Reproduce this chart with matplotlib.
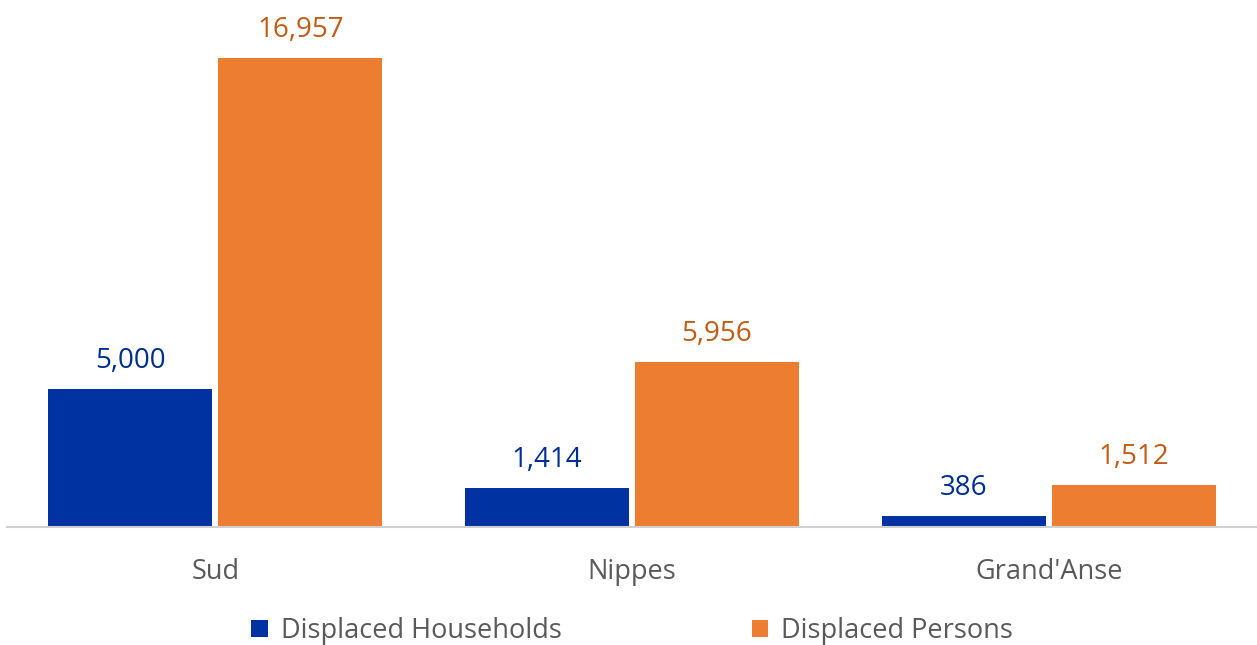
import matplotlib.pyplot as plt
import numpy as np

categories = ["Sud", "Nippes", "Grand'Anse"]
households = [5000, 1414, 386]
persons = [16957, 5956, 1512]
series_names = ["Displaced Households", "Displaced Persons"]

blue = "#0033A1"
orange = "#ED7D31"
blue_txt = "#002E91"
orange_txt = "#C55A11"
grey = "#595959"

plt.rcParams['font.family'] = ['Open Sans', 'DejaVu Sans']

fig = plt.figure(figsize=(12.57, 6.45), dpi=100)
ax = fig.add_axes([7 / 1257, 118 / 645, 1250 / 1257, 527 / 645])

x = np.arange(len(categories))
w = 0.394
off = 0.204
b1 = ax.bar(x - off, households, w, color=blue, label=series_names[0])
b2 = ax.bar(x + off, persons, w, color=orange, label=series_names[1])

for bars, col in [(b1, blue_txt), (b2, orange_txt)]:
    for r in bars:
        ax.annotate(f"{int(r.get_height()):,}", (r.get_x() + r.get_width() / 2, r.get_height()),
                    xytext=(0, 10), textcoords="offset points", ha="center", va="bottom",
                    fontsize=20, color=col, fontweight="medium")

ax.set_xlim(-0.5, 2.5)
ax.set_ylim(0, 19050)
ax.set_xticks(x)
ax.set_xticklabels(categories, fontsize=19.5, color=grey)
ax.tick_params(axis="x", length=0, pad=22)
ax.set_yticks([])
for s in ["top", "right", "left"]:
    ax.spines[s].set_visible(False)
ax.spines["bottom"].set_color("#D0D0D0")
ax.spines["bottom"].set_linewidth(1.5)

leg = fig.legend(handles=[b1, b2], loc="center", bbox_to_anchor=(0.503, 0.022), ncol=2,
                 frameon=False, handlelength=0.6, handleheight=0.6,
                 handletextpad=0.5, columnspacing=7.0, labelcolor=grey,
                 prop={'family': ['Open Sans', 'DejaVu Sans'], 'size': 19.5})

fig.savefig("out.png", dpi=100)
